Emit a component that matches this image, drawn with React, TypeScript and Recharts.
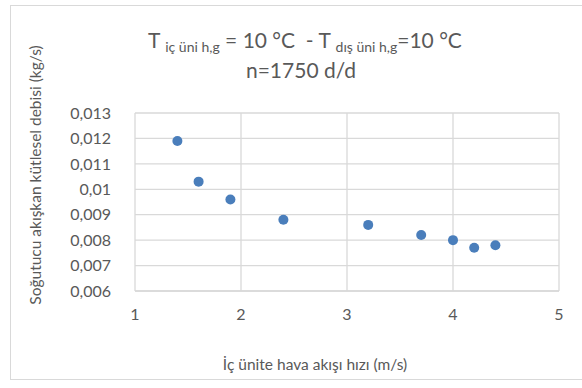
import React from 'react'
import { ScatterChart, Scatter, XAxis, YAxis, CartesianGrid, Label } from 'recharts'

const airSpeed = [1.4, 1.6, 1.9, 2.4, 3.2, 3.7, 4.0, 4.2, 4.4]
const massFlow = [0.0119, 0.0103, 0.0096, 0.0088, 0.0086, 0.0082, 0.008, 0.0077, 0.0078]
const xTicks = [1, 2, 3, 4, 5]
const yTicks = [0.006, 0.007, 0.008, 0.009, 0.01, 0.011, 0.012, 0.013]

const font = 'Lato, "Open Sans", sans-serif'
const grey = '#595959'

const data = airSpeed.map((x, i) => ({ x, y: massFlow[i] }))

const fmtY = (v: number): string => String(Number(v.toFixed(3))).replace('.', ',')

// two-line chart title, subscripts done with tspans
const Title = (): JSX.Element => (
    <text x={305} y={48} textAnchor="middle" fill={grey} fontFamily={font} fontSize={21}>
        <tspan>T </tspan>
        <tspan fontSize={14} dy={4}>iç üni h,g</tspan>
        <tspan dy={-4}>{' = 10 °C \u00a0- T '}</tspan>
        <tspan fontSize={14} dy={4}>dış üni h,g</tspan>
        <tspan dy={-4}>=10 °C</tspan>
        <tspan x={301} y={78}>n=1750 d/d</tspan>
    </text>
)

export default function App(): JSX.Element {
    return (
        <div style={{ position: 'absolute', left: 0, top: 0, width: 582, height: 388, background: '#fff' }}>
            <div style={{ position: 'absolute', left: 10, top: 5, width: 580, height: 375, border: '1px solid #d9d9d9', boxSizing: 'border-box' }} />
            <ScatterChart width={582} height={388} margin={{ top: 113, right: 23, left: 10, bottom: 67 }}>
                <CartesianGrid stroke="#d9d9d9" strokeWidth={1.3} />
                <XAxis
                    type="number"
                    dataKey="x"
                    domain={[1, 5]}
                    ticks={xTicks}
                    tickLine={false}
                    axisLine={{ stroke: '#d9d9d9', strokeWidth: 1.3 }}
                    tick={{ fill: grey, fontSize: 16, fontFamily: font }}
                    tickMargin={12}
                    height={30}
                >
                    <Label value="İç ünite hava akışı hızı (m/s)" position="bottom" offset={38} dx={-32} fill={grey} fontSize={15.5} fontFamily={font} />
                </XAxis>
                <YAxis
                    type="number"
                    dataKey="y"
                    domain={[0.006, 0.013]}
                    ticks={yTicks}
                    tickFormatter={fmtY}
                    tickLine={false}
                    axisLine={false}
                    tick={{ fill: grey, fontSize: 16, fontFamily: font }}
                    tickMargin={18}
                    width={125}
                >
                    <Label value="Soğutucu akışkan kütlesel debisi (kg/s)" angle={-90} position="insideLeft" offset={25} fill={grey} fontSize={15.5} fontFamily={font} style={{ textAnchor: 'middle' }} dy={-27} />
                </YAxis>
                <Scatter
                    data={data}
                    fill="#4a7ebb"
                    isAnimationActive={false}
                    shape={(p: any) => <circle cx={p.cx} cy={p.cy} r={5} fill="#4a7ebb" />}
                />
                <Title />
            </ScatterChart>
        </div>
    )
}
